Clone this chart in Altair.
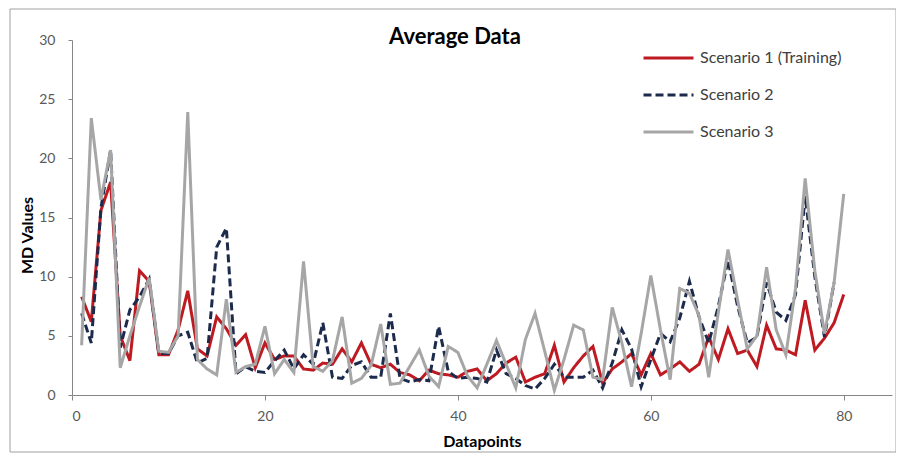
import altair as alt
import pandas as pd

# ---- data ----
series_names = ["Scenario 1 (Training)", "Scenario 2", "Scenario 3"]
chart_title = "Average Data"

scenario1 = [8.3, 6.2, 15.6, 18.0, 5.0, 2.9, 10.5, 9.6, 3.4, 3.4,
             5.5, 8.8, 3.9, 3.3, 6.6, 5.6, 4.2, 5.1, 2.3, 4.4,
             3.0, 3.3, 3.3, 2.2, 2.1, 2.7, 2.6, 3.9, 2.8, 4.4,
             2.6, 2.3, 2.6, 1.9, 1.7, 1.2, 2.1, 1.8, 1.7, 1.5,
             2.0, 2.2, 1.2, 1.8, 2.7, 3.2, 1.1, 1.5, 1.8, 4.2,
             1.1, 2.3, 3.3, 4.1, 1.0, 2.2, 2.8, 3.5, 1.7, 3.5,
             1.7, 2.2, 2.8, 2.0, 2.6, 4.9, 3.0, 5.6, 3.5, 3.8,
             2.4, 5.9, 3.9, 3.8, 3.4, 8.0, 3.8, 4.8, 6.1, 8.5]

scenario2 = [6.9, 4.4, 15.8, 20.7, 4.0, 7.2, 8.3, 9.8, 3.5, 3.5,
             5.0, 5.3, 2.7, 3.1, 12.5, 14.1, 1.8, 2.4, 2.0, 1.9,
             2.9, 3.8, 2.2, 3.4, 2.6, 6.1, 1.5, 1.4, 2.5, 2.8,
             1.5, 1.5, 6.9, 1.4, 1.1, 1.3, 1.2, 5.8, 2.0, 1.4,
             1.5, 1.4, 1.1, 3.8, 1.8, 1.4, 0.8, 0.5, 1.4, 2.6,
             1.5, 1.5, 1.5, 2.1, 0.6, 2.7, 5.5, 3.9, 0.7, 3.0,
             5.2, 4.5, 6.5, 9.6, 6.6, 4.4, 7.5, 11.4, 7.5, 4.4,
             4.9, 9.5, 7.0, 6.3, 8.5, 16.8, 10.0, 4.9, 9.5]

scenario3 = [4.2, 23.4, 16.5, 20.7, 2.3, 5.0, 7.5, 9.9, 3.7, 3.6,
             5.0, 23.9, 3.0, 2.2, 1.7, 8.1, 1.9, 2.4, 2.6, 5.8,
             1.8, 3.0, 1.9, 11.3, 2.4, 2.0, 2.9, 6.6, 1.0, 1.4,
             2.5, 6.0, 0.9, 1.0, 2.4, 3.8, 1.6, 0.7, 4.1, 3.6,
             1.6, 0.6, 2.6, 4.6, 2.6, 0.6, 4.7, 6.9, 3.7, 0.4,
             3.0, 5.9, 5.5, 1.5, 1.3, 7.4, 4.4, 0.7, 5.2, 10.1,
             5.5, 1.3, 9.0, 8.6, 6.7, 1.5, 7.0, 12.3, 8.0, 3.9,
             5.0, 10.8, 5.5, 3.4, 9.0, 18.3, 10.5, 5.2, 9.5, 17.0]

x_ticks = [0, 20, 40, 60, 80]
y_ticks = [0, 5, 10, 15, 20, 25, 30]

series_colors = ["#BE1A22", "#1C2B4C", "#A6A6A6"]
series_dashes = [[1, 0], [8, 4], [1, 0]]

rows = []
for name, vals in zip(series_names, [scenario1, scenario2, scenario3]):
    for i, v in enumerate(vals, start=1):
        rows.append({"Datapoint": i, "MD": v, "Series": name})
df = pd.DataFrame(rows)

FONT = "Lato, 'Open Sans', sans-serif"

legend_cfg = dict(
    orient="none", legendX=570, legendY=8, title=None,
    symbolType="stroke", symbolSize=2500, symbolStrokeWidth=3,
    labelFont=FONT, labelFontSize=16, labelColor="#404040",
    labelOffset=5, clipHeight=20, rowPadding=17, padding=0,
)

lines = alt.Chart(df).mark_line(strokeWidth=3).encode(
    x=alt.X("Datapoint:Q",
            scale=alt.Scale(domain=[0, 85], nice=False, zero=False),
            axis=alt.Axis(values=x_ticks, title="Datapoints", grid=False,
                          tickSize=5, labelPadding=9,
                          titleY=46, titleBaseline="middle")),
    y=alt.Y("MD:Q",
            scale=alt.Scale(domain=[0, 30], nice=False),
            axis=alt.Axis(values=y_ticks, title="MD Values", grid=False,
                          tickSize=4, labelPadding=13,
                          titleX=-45, titleY=195, titleAngle=270,
                          titleAlign="center", titleBaseline="middle")),
    color=alt.Color("Series:N",
                    scale=alt.Scale(domain=series_names, range=series_colors),
                    legend=alt.Legend(**legend_cfg)),
    strokeDash=alt.StrokeDash("Series:N",
                              scale=alt.Scale(domain=series_names, range=series_dashes),
                              legend=alt.Legend(**legend_cfg)),
    order=alt.Order("Datapoint:Q"),
)

frame = alt.Chart(pd.DataFrame({"f": [0]})).mark_rect(
    fillOpacity=0, stroke="#A0A0A0", strokeWidth=1
).encode(
    x=alt.value(-62), x2=alt.value(824), y=alt.value(-31), y2=alt.value(412)
)

title_text = alt.Chart(pd.DataFrame({"t": [chart_title]})).mark_text(
    font=FONT, fontSize=22, fontWeight="bold", color="#000000",
    align="center", baseline="middle"
).encode(
    text="t:N", x=alt.value(383), y=alt.value(-3)
)

chart = alt.layer(frame, lines, title_text).properties(
    width=820, height=355,
    autosize=alt.AutoSizeParams(type="none"),
    padding={"left": 64, "top": 32, "right": 4, "bottom": 58},
).configure_axis(
    domainColor="#868686", tickColor="#868686",
    labelFont=FONT, labelFontSize=14, labelColor="#595959",
    titleFont=FONT, titleFontSize=16, titleFontWeight="bold", titleColor="#000000",
).configure_view(strokeWidth=0)

chart.save("out.html", embed_options={"renderer": "svg", "actions": False})
